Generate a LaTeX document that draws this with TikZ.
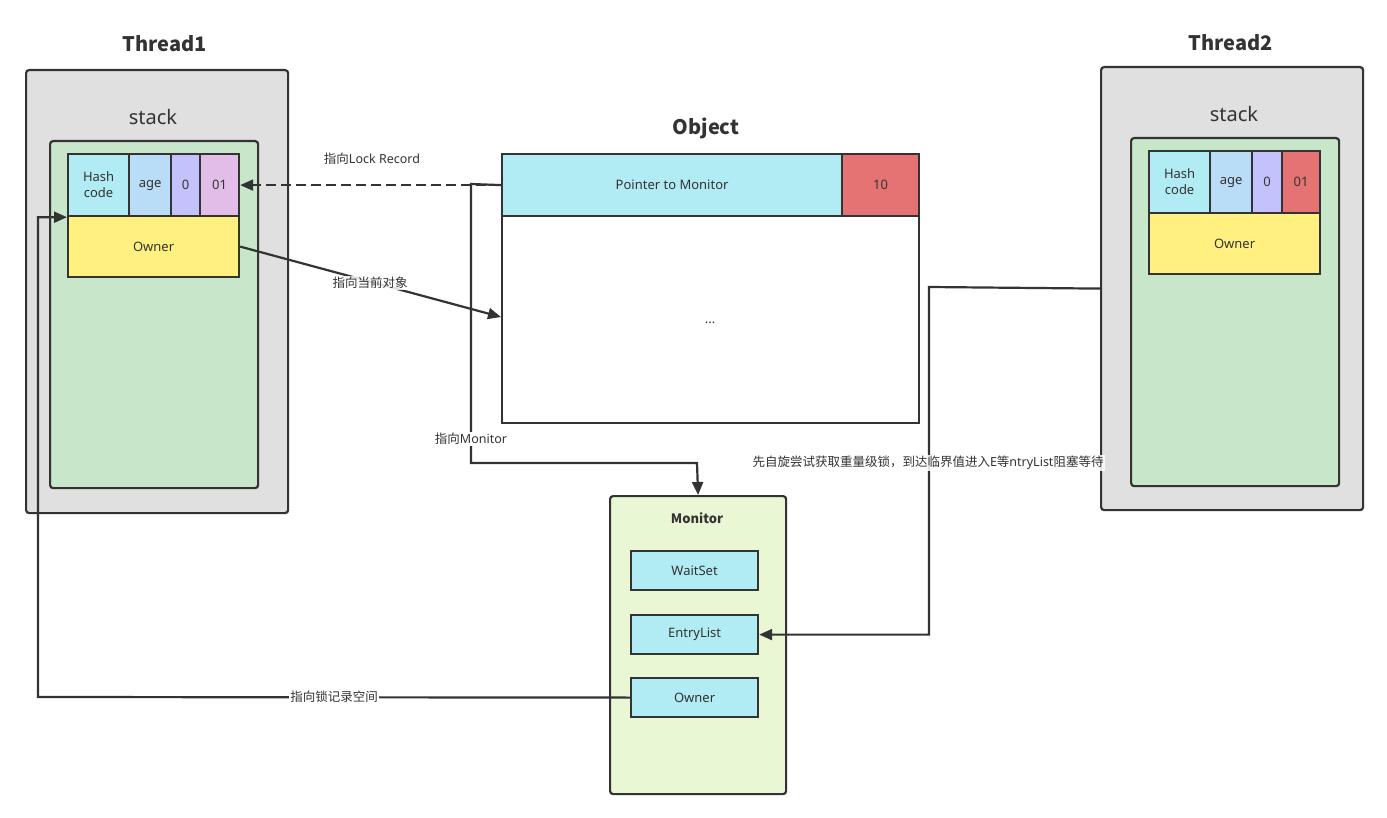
\documentclass[tikz,border=0pt]{standalone}
\usepackage{fontspec}
\setmainfont{Noto Sans}
\newfontfamily\cjk{Noto Sans CJK SC}
\usetikzlibrary{arrows.meta}
\definecolor{linec}{HTML}{333333}
\definecolor{textc}{HTML}{333333}
\definecolor{grayb}{HTML}{E0E0E0}
\definecolor{greens}{HTML}{C8E6C9}
\definecolor{cyanc}{HTML}{B1EBF3}
\definecolor{agec}{HTML}{B9DCF7}
\definecolor{lavc}{HTML}{C4C2FD}
\definecolor{pinkc}{HTML}{E1BDE7}
\definecolor{redc}{HTML}{E57373}
\definecolor{yelc}{HTML}{FFF080}
\definecolor{monc}{HTML}{E9F7D5}
\begin{document}
\begin{tikzpicture}[x=1pt,y=-1pt,
  box/.style={draw=linec, line width=2.2pt, rounded corners=3pt, anchor=north west, inner sep=0pt},
  cell/.style={draw=linec, line width=2.2pt, inner sep=0pt, align=center, anchor=north west,
    font=\fontsize{13}{16}\selectfont, text=textc},
  title/.style={font=\cjk\fontsize{20}{24}\selectfont\bfseries, text=textc},
  stk/.style={font=\fontsize{20}{24}\selectfont, text=textc},
  conn/.style={draw=linec, line width=2.2pt, -{Triangle[length=13pt,width=11pt]}},
  lbl/.style={font=\fontsize{12.5}{14}\selectfont, text=textc, inner sep=1pt},
  wlbl/.style={lbl, fill=white}]
\useasboundingbox (0,0) rectangle (1387,818);
\fill[white] (0,0) rectangle (1387,818);
% Thread1
\node[title] (t1title) at (165,44) {Thread1};
\node[box, fill=grayb, minimum width=262, minimum height=443] (t1) at (25,69) {};
\node[stk] (s1) at (153,117) {stack};
\node[box, fill=greens, minimum width=208, minimum height=347] (g1) at (49,140) {};
\node[cell, fill=cyanc, minimum width=61, minimum height=62] (h1) at (67,153) {Hash\\code};
\node[cell, fill=agec, minimum width=42, minimum height=62] (a1) at (128,153) {age};
\node[cell, fill=lavc, minimum width=29, minimum height=62] (z1) at (170,153) {0};
\node[cell, fill=pinkc, minimum width=39, minimum height=62] (o1) at (199,153) {01};
\node[cell, fill=yelc, minimum width=171, minimum height=61] (w1) at (67,215) {Owner};
% Thread2
\node[title] (t2title) at (1231,43) {Thread2};
\node[box, fill=grayb, minimum width=262, minimum height=443] (t2) at (1100,66) {};
\node[stk] (s2) at (1234,114) {stack};
\node[box, fill=greens, minimum width=208, minimum height=348] (g2) at (1130,137) {};
\node[cell, fill=cyanc, minimum width=61, minimum height=62] (h2) at (1148,150) {Hash\\code};
\node[cell, fill=agec, minimum width=42, minimum height=62] (a2) at (1209,150) {age};
\node[cell, fill=lavc, minimum width=30, minimum height=62] (z2) at (1251,150) {0};
\node[cell, fill=redc, minimum width=38, minimum height=62] (o2) at (1281,150) {01};
\node[cell, fill=yelc, minimum width=171, minimum height=61] (w2) at (1148,212) {Owner};
% Object
\node[title] (otitle) at (706,128) {Object};
\node[cell, fill=white, minimum width=417, minimum height=207] (body) at (501,215) {};
\node[font=\fontsize{13}{16}\selectfont, text=textc] (dots) at (710,323) {...};
\node[cell, fill=cyanc, minimum width=340, minimum height=62] (ptr) at (501,153) {Pointer to Monitor};
\node[cell, fill=redc, minimum width=77, minimum height=62] (ten) at (841,153) {10};
% Monitor
\node[box, fill=monc, minimum width=176, minimum height=298] (mon) at (609,495) {};
\node[font=\cjk\fontsize{13}{16}\selectfont\bfseries, text=textc] (montitle) at (697,518) {Monitor};
\node[cell, fill=cyanc, minimum width=127, minimum height=39] (ws) at (630,550) {WaitSet};
\node[cell, fill=cyanc, minimum width=127, minimum height=39] (el) at (630,614) {EntryList};
\node[cell, fill=cyanc, minimum width=127, minimum height=39] (mo) at (630,677) {Owner};
% connectors
\coordinate (j1) at (471,184);
\draw[conn] (ptr.west) -- (j1) |- (697,463) -- (mon.north);
\draw[conn, dash pattern=on 10pt off 5pt] (ptr.west) -- (o1.east);
\node[lbl] (l1) at (372,159) {{\cjk 指向}Lock Record};
\node[wlbl] (l3) at (471,439) {{\cjk 指向}Monitor};
\draw[conn] (w1.east) -- (501,317);
\node[wlbl, fill opacity=0.85, text opacity=1] (l2) at (370,283) {\cjk 指向当前对象};
\coordinate (j2) at (929,287);
\draw[conn] (t2.west) -- (j2) |- (el.east);
\node[wlbl, fill opacity=0.85, text opacity=1] (l4) at (928,463) {{\cjk 先自旋尝试获取重量级锁，到达临界值进入}E{\cjk 等}ntryList{\cjk 阻塞等待}};
\coordinate (j3) at (38,697);
\draw[conn] (mo.west) -- (j3) |- (h1.south west);
\node[wlbl] (l5) at (334,697) {\cjk 指向锁记录空间};
\end{tikzpicture}
\end{document}
